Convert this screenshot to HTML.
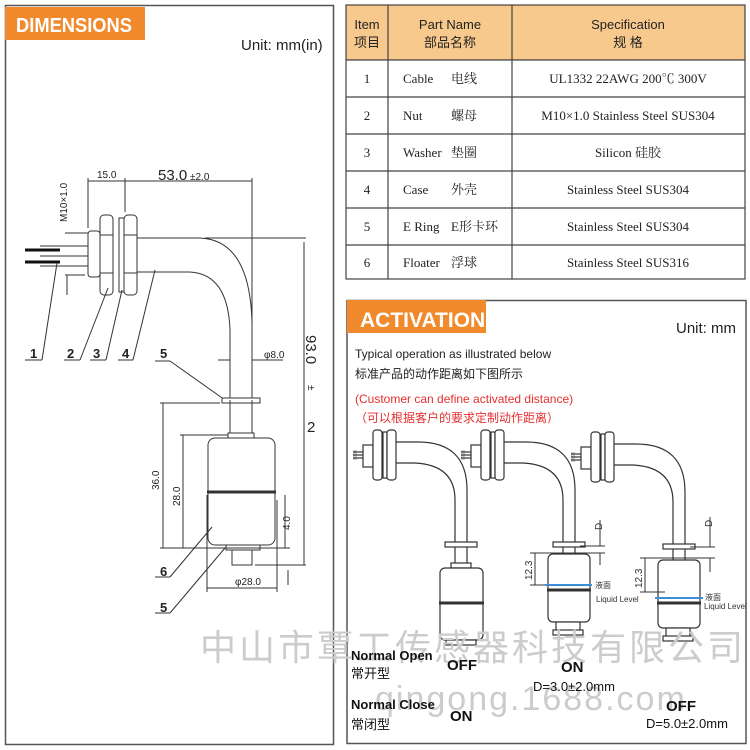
<!DOCTYPE html>
<html><head><meta charset="utf-8"><style>
body{margin:0;background:#fff;width:750px;height:750px;overflow:hidden;font-family:"Liberation Sans","Noto Sans CJK SC",sans-serif}
svg{position:absolute;left:0;top:0}
</style></head><body>
<svg width="750" height="750" viewBox="0 0 750 750" xmlns="http://www.w3.org/2000/svg" font-family="Liberation Sans, Noto Sans CJK SC, sans-serif">
<defs>
<g id="sensor" fill="none" stroke="#333" stroke-width="1.2">
 <rect x="0" y="20" width="4" height="10" fill="#ccc" stroke="none"/>
 <line x1="0" y1="22" x2="10" y2="22"/><line x1="0" y1="25" x2="10" y2="25"/><line x1="0" y1="28" x2="10" y2="28"/>
 <rect x="10" y="15" width="10" height="22" fill="#fff"/>
 <rect x="20" y="0" width="9" height="50" rx="3" fill="#fff"/>
 <rect x="30" y="2" width="4" height="46" fill="#fff"/>
 <rect x="34" y="0" width="9" height="50" rx="3" fill="#fff"/>
 <path d="M43,12 H65 Q114,12 114,60 V113"/>
 <path d="M43,33 H62 Q102,35 102,70 V113"/>
 <rect x="92" y="112" width="32" height="5" fill="#fff"/>
</g>
</defs>
<!-- left panel -->
<rect x="5.5" y="5.5" width="328" height="739" fill="#fff" stroke="#555" stroke-width="1.5"/>
<rect x="5" y="7" width="140" height="33" fill="#f08a2c"/>
<text x="16" y="32" font-size="20" font-weight="bold" fill="#fff" textLength="116" lengthAdjust="spacingAndGlyphs">DIMENSIONS</text>
<text x="241" y="50" font-size="15" fill="#222">Unit: mm(in)</text>

<g stroke="#333" fill="none" stroke-width="1">
 <line x1="25" y1="250" x2="60" y2="250" stroke="#111" stroke-width="3"/>
 <line x1="25" y1="262" x2="60" y2="262" stroke="#111" stroke-width="3"/>
 <line x1="40" y1="246" x2="88" y2="246"/><line x1="40" y1="256" x2="88" y2="256"/><line x1="40" y1="266" x2="88" y2="266"/>
 <rect x="88" y="231" width="12" height="46" rx="3" fill="#fff"/>
 <rect x="100" y="215" width="13" height="80" rx="4" fill="#fff"/>
 <line x1="100" y1="235" x2="113" y2="235"/><line x1="100" y1="273" x2="113" y2="273"/>
 <rect x="119" y="218" width="5" height="74" fill="#fff"/>
 <rect x="124" y="215" width="13" height="80" rx="4" fill="#fff"/>
 <line x1="124" y1="235" x2="137" y2="235"/><line x1="124" y1="273" x2="137" y2="273"/>
 <path d="M137,238 H200 Q250,240 252,323 V400"/>
 <path d="M137,272 H190 Q228,274 230,330 V400"/>
 <line x1="88" y1="178" x2="88" y2="228"/>
 <line x1="125" y1="178" x2="125" y2="212"/>
 <line x1="88" y1="181" x2="125" y2="181"/>
 <line x1="125" y1="181" x2="252" y2="181"/>
 <line x1="252" y1="178" x2="252" y2="330"/>
 <line x1="65" y1="233" x2="88" y2="233"/>
 <line x1="65" y1="275" x2="85" y2="275"/>
 <line x1="67" y1="275" x2="67" y2="295"/>
 <line x1="205" y1="238" x2="306" y2="238"/>
 <line x1="304" y1="242" x2="304" y2="565"/>
 <line x1="255" y1="565" x2="306" y2="565"/>
 <line x1="288" y1="570" x2="288" y2="585"/>
 <line x1="218" y1="360" x2="230" y2="360"/><line x1="252" y1="360" x2="283" y2="360"/>
 <line x1="25" y1="360" x2="42" y2="360"/><line x1="42" y1="360" x2="57" y2="263"/>
 <line x1="64" y1="360" x2="80" y2="360"/><line x1="80" y1="360" x2="108" y2="288"/>
 <line x1="90" y1="360" x2="106" y2="360"/><line x1="106" y1="360" x2="122" y2="290"/>
 <line x1="118" y1="360" x2="133" y2="360"/><line x1="133" y1="360" x2="155" y2="270"/>
 <line x1="155" y1="361" x2="170" y2="361"/><line x1="170" y1="361" x2="225" y2="400"/>
 <rect x="222" y="398" width="38" height="5" fill="#fff"/>
 <path d="M230,400 V435 M252,400 V435"/>
 <rect x="228" y="433" width="26" height="5" fill="#fff"/>
 <rect x="208" y="438" width="67" height="107" rx="7" fill="#fff"/>
 <line x1="207" y1="492" x2="276" y2="492" stroke-width="3"/>
 <rect x="226" y="545" width="34" height="5" fill="#fff"/>
 <rect x="232" y="550" width="20" height="15" fill="#fff"/>
 <line x1="160" y1="403" x2="220" y2="403"/>
 <line x1="163" y1="403" x2="163" y2="548"/>
 <line x1="180" y1="435" x2="228" y2="435"/>
 <line x1="183" y1="435" x2="183" y2="548"/>
 <line x1="160" y1="548" x2="290" y2="548"/>
 <line x1="285" y1="495" x2="285" y2="548"/>
 <line x1="207" y1="495" x2="207" y2="592"/>
 <line x1="277" y1="500" x2="277" y2="592"/>
 <line x1="207" y1="588" x2="277" y2="588"/>
 <line x1="155" y1="577" x2="170" y2="577"/><line x1="170" y1="577" x2="212" y2="527"/>
 <line x1="155" y1="613" x2="170" y2="613"/><line x1="170" y1="613" x2="225" y2="548"/>
</g>
<g fill="#222" font-size="10">
 <text x="97" y="178">15.0</text>
 <text x="158" y="180" font-size="15">53.0</text><text x="190" y="180">±2.0</text>
 <text x="264" y="358">φ8.0</text>
 <text x="235" y="585">φ28.0</text>
 <text transform="translate(67,222) rotate(-90)">M10×1.0</text>
 <text transform="translate(159,490) rotate(-90)">36.0</text>
 <text transform="translate(180,506) rotate(-90)">28.0</text>
 <text transform="translate(290,530) rotate(-90)">4.0</text>
 <text transform="translate(306,335) rotate(90)" font-size="15">93.0</text>
 <text transform="translate(308,385) rotate(90)">±</text>
 <text x="307" y="432" font-size="15">2</text>
 <g font-size="13" font-weight="bold">
 <text x="30" y="358">1</text><text x="67" y="358">2</text><text x="93" y="358">3</text><text x="122" y="358">4</text><text x="160" y="358">5</text>
 <text x="160" y="576">6</text><text x="160" y="612">5</text></g>
</g>

<!-- table -->
<g stroke="#444" stroke-width="1.2">
 <rect x="346" y="5" width="399" height="55" fill="#f8c98d"/>
 <rect x="346" y="60" width="399" height="219" fill="#fff"/>
 <line x1="388" y1="5" x2="388" y2="279"/><line x1="512" y1="5" x2="512" y2="279"/>
 <line x1="346" y1="97" x2="745" y2="97"/><line x1="346" y1="134" x2="745" y2="134"/>
 <line x1="346" y1="171" x2="745" y2="171"/><line x1="346" y1="208" x2="745" y2="208"/>
 <line x1="346" y1="245" x2="745" y2="245"/>
</g>
<g fill="#222" font-size="13" text-anchor="middle">
 <text x="367" y="29">Item</text><text x="367" y="47">项目</text>
 <text x="450" y="29">Part Name</text><text x="450" y="47">部品名称</text>
 <text x="628" y="29">Specification</text><text x="628" y="47">规  格</text>
 <g font-family="Liberation Serif, Noto Serif CJK SC, serif" font-size="13">
 <text x="367" y="83">1</text><text x="367" y="120">2</text><text x="367" y="157">3</text><text x="367" y="194">4</text><text x="367" y="231">5</text><text x="367" y="267">6</text>
 <text x="628" y="83">UL1332 22AWG 200℃ 300V</text>
 <text x="628" y="120">M10×1.0 Stainless Steel SUS304</text>
 <text x="628" y="157">Silicon 硅胶</text>
 <text x="628" y="194">Stainless Steel SUS304</text>
 <text x="628" y="231">Stainless Steel SUS304</text>
 <text x="628" y="267">Stainless Steel SUS316</text>
 <g text-anchor="start">
 <text x="403" y="83">Cable</text><text x="451" y="83">电线</text>
 <text x="403" y="120">Nut</text><text x="451" y="120">螺母</text>
 <text x="403" y="157">Washer</text><text x="451" y="157">垫圈</text>
 <text x="403" y="194">Case</text><text x="451" y="194">外壳</text>
 <text x="403" y="231">E Ring</text><text x="451" y="231">E形卡环</text>
 <text x="403" y="267">Floater</text><text x="451" y="267">浮球</text>
 </g></g>
</g>

<!-- activation -->
<rect x="347" y="300.5" width="399" height="443" fill="#fff" stroke="#555" stroke-width="1.5"/>
<rect x="347" y="300" width="139" height="33" fill="#f08a2c"/>
<text x="360" y="327" font-size="21" font-weight="bold" fill="#fff">ACTIVATION</text>
<text x="676" y="333" font-size="15" fill="#222">Unit: mm</text>
<g font-size="12">
 <text x="355" y="358" fill="#222">Typical operation as illustrated below</text>
 <text x="355" y="378" fill="#222">标准产品的动作距离如下图所示</text>
 <text x="355" y="403" fill="#e53030">(Customer can define activated distance)</text>
 <text x="355" y="422" fill="#e53030">（可以根据客户的要求定制动作距离）</text>
</g>
<use href="#sensor" x="353" y="430"/>
<use href="#sensor" x="461" y="430"/>
<use href="#sensor" x="571" y="432"/>
<g stroke="#333" stroke-width="1.2" fill="none">
 <path d="M455,547 V568 M467,547 V568"/>
 <path d="M563,547 V554 M575,547 V554"/>
 <path d="M673,549 V560 M685,549 V560"/>
</g>
<g fill="#fff" stroke="#333" stroke-width="1.2">
 <rect x="451" y="563" width="20" height="5"/>
 <rect x="440" y="568" width="43" height="72" rx="5"/>
 <line x1="439" y1="603" x2="484" y2="603" stroke-width="3"/>
 <rect x="446" y="640" width="30" height="5"/>
 <rect x="548" y="554" width="42" height="68" rx="5"/>
 <line x1="547" y1="590" x2="591" y2="590" stroke-width="3"/>
 <rect x="556" y="622" width="24" height="12"/><rect x="553" y="630" width="30" height="5"/>
 <rect x="658" y="560" width="42" height="68" rx="5"/>
 <line x1="657" y1="603" x2="701" y2="603" stroke-width="3"/>
 <rect x="666" y="628" width="24" height="12"/><rect x="663" y="636" width="30" height="5"/>
</g>
<g stroke="#333" stroke-width="1" fill="none">
 <line x1="530" y1="553" x2="605" y2="553"/><line x1="530" y1="585" x2="560" y2="585"/>
 <line x1="535" y1="553" x2="535" y2="585"/>
 <line x1="580" y1="546" x2="605" y2="546"/><line x1="600" y1="520" x2="600" y2="546"/><line x1="600" y1="553" x2="600" y2="565"/>
 <line x1="640" y1="558" x2="715" y2="558"/><line x1="640" y1="592" x2="665" y2="592"/>
 <line x1="645" y1="558" x2="645" y2="592"/>
 <line x1="690" y1="547" x2="715" y2="547"/><line x1="710" y1="517" x2="710" y2="547"/><line x1="710" y1="558" x2="710" y2="572"/>
</g>
<line x1="545" y1="585" x2="592" y2="585" stroke="#3a8fd6" stroke-width="2"/>
<line x1="655" y1="598" x2="703" y2="598" stroke="#3a8fd6" stroke-width="2"/>
<g font-size="8" fill="#333">
 <text transform="translate(532,580) rotate(-90)" font-size="10">12.3</text>
 <text transform="translate(642,588) rotate(-90)" font-size="10">12.3</text>
 <text transform="translate(602,530) rotate(-90)" font-size="10">D</text>
 <text transform="translate(712,527) rotate(-90)" font-size="10">D</text>
 <text x="595" y="588">液面</text><text x="596" y="602">Liquid Level</text>
 <text x="705" y="600">液面</text><text x="704" y="609">Liquid Level</text>
</g>
<text x="200" y="660" font-size="36" fill="#ccc" letter-spacing="3">中山市覃工传感器科技有限公司</text>
<text x="375" y="710" font-size="34" fill="#ccc" letter-spacing="2">qingong.1688.com</text>
<g fill="#111" font-size="13">
 <text x="351" y="660" font-weight="bold">Normal Open</text>
 <text x="351" y="678">常开型</text>
 <text x="447" y="670" font-size="15" font-weight="bold">OFF</text>
 <text x="561" y="672" font-size="15" font-weight="bold">ON</text>
 <text x="533" y="691">D=3.0±2.0mm</text>
 <text x="351" y="709" font-weight="bold">Normal Close</text>
 <text x="351" y="729">常闭型</text>
 <text x="450" y="721" font-size="15" font-weight="bold">ON</text>
 <text x="666" y="711" font-size="15" font-weight="bold">OFF</text>
 <text x="646" y="728">D=5.0±2.0mm</text>
</g>
</svg>
</body></html>
